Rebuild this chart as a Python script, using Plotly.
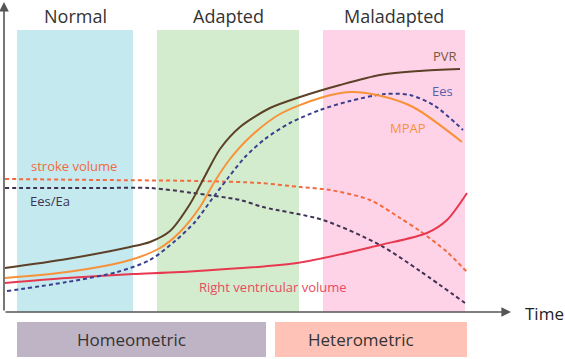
import plotly.graph_objects as go

# ---- data (x: time position, y: level measured downward on the canvas scale) ----
phase_names = ["Normal", "Adapted", "Maladapted"]
phase_start = [17, 157, 323]
phase_end = [133, 299, 465]
phase_colors = ["#c4e9ef", "#d3ecce", "#ffd3e7"]

mode_names = ["Homeometric", "Heterometric"]
mode_start = [17, 275]
mode_end = [266, 467]
mode_label_x = [131, 361]
mode_colors = ["#bfb3c6", "#ffc2b7"]

pvr_x = [5, 67, 130, 150, 170, 190, 205, 220, 240, 270, 300, 340, 380, 420, 460]
pvr_y = [268, 259, 247, 242, 231, 204, 176, 149, 127, 108, 97, 85, 75, 71, 69]

mpap_x = [5, 67, 130, 160, 180, 200, 215, 230, 250, 280, 320, 350, 377, 413, 462]
mpap_y = [278, 272, 260, 248, 232, 207, 181, 159, 137, 114, 98, 92, 95, 107, 142]

ees_x = [7, 67, 117, 150, 175, 195, 212, 228, 245, 265, 290, 320, 350, 385, 410, 435, 463]
ees_y = [291, 282, 272, 260, 241, 222, 199, 178, 157, 139, 123, 110, 101, 94, 95, 106, 130]

sv_x = [5, 100, 200, 260, 300, 330, 370, 400, 420, 447, 467]
sv_y = [179, 180, 181, 183, 187, 190, 200, 218, 231, 252, 272]

eesea_x = [5, 100, 150, 193, 240, 263, 323, 380, 420, 465]
eesea_y = [188, 188, 188, 193, 200, 207, 220, 245, 271, 303]

rvv_x = [5, 67, 133, 180, 297, 380, 427, 447, 467]
rvv_y = [283, 278, 274, 272, 263, 245, 233, 220, 193]

FONT = "Open Sans, Noto Sans, DejaVu Sans, sans-serif"

fig = go.Figure()

shapes = []
annotations = []

for name, x0, x1, c in zip(phase_names, phase_start, phase_end, phase_colors):
    shapes.append(dict(type="rect", xref="x", yref="y", x0=x0, x1=x1, y0=30, y1=312,
                       fillcolor=c, line=dict(width=0), layer="below"))
    annotations.append(dict(x=(x0 + x1) / 2, y=16, xref="x", yref="y", text=name,
                            showarrow=False, font=dict(size=18, color="#333333", family=FONT)))

for name, x0, x1, lx, c in zip(mode_names, mode_start, mode_end, mode_label_x, mode_colors):
    shapes.append(dict(type="rect", xref="x", yref="y", x0=x0, x1=x1, y0=322, y1=357,
                       fillcolor=c, line=dict(width=0), layer="below"))
    annotations.append(dict(x=lx, y=339, xref="x", yref="y", text=name,
                            showarrow=False, font=dict(size=17, color="#333333", family=FONT)))

series = [
    (sv_x, sv_y, "#f26a3f", "4px,3px"),
    (eesea_x, eesea_y, "#3f3252", "4px,3px"),
    (rvv_x, rvv_y, "#e8384f", "solid"),
    (ees_x, ees_y, "#3a3f8f", "4px,3px"),
    (mpap_x, mpap_y, "#f7923a", "solid"),
    (pvr_x, pvr_y, "#5c4027", "solid"),
]
for xs, ys, c, d in series:
    fig.add_trace(go.Scatter(x=xs, y=ys, mode="lines",
                             line=dict(color=c, width=2, dash=d, shape="spline", smoothing=0.8),
                             hoverinfo="skip", showlegend=False))

labels = [
    ("PVR", 445, 56, "#7a5640"),
    ("Ees", 442, 91, "#5a5fa8"),
    ("MPAP", 408, 128, "#f7923a"),
    ("stroke volume", 74, 166, "#f26a3f"),
    ("Ees/Ea", 50, 201, "#3f3252"),
    ("Right ventricular volume", 273, 287, "#e84a5f"),
]
for t, x, y, c in labels:
    annotations.append(dict(x=x, y=y, xref="x", yref="y", text=t, showarrow=False,
                            font=dict(size=13, color=c, family=FONT)))

annotations.append(dict(x=544, y=313, xref="x", yref="y", text="Time", showarrow=False,
                        font=dict(size=17, color="#222222", family=FONT)))

# axes arrows
annotations.append(dict(x=511, y=312, ax=4, ay=312, xref="x", yref="y", axref="x", ayref="y",
                        text="", showarrow=True, arrowhead=2, arrowsize=1.2, arrowwidth=1.6,
                        arrowcolor="#555555"))
annotations.append(dict(x=4, y=2, ax=4, ay=312, xref="x", yref="y", axref="x", ayref="y",
                        text="", showarrow=True, arrowhead=2, arrowsize=1.2, arrowwidth=1.6,
                        arrowcolor="#555555"))

fig.update_layout(
    width=565, height=359,
    margin=dict(l=0, r=0, t=0, b=0),
    paper_bgcolor="white", plot_bgcolor="white",
    shapes=shapes, annotations=annotations,
    xaxis=dict(range=[0, 565], visible=False, fixedrange=True),
    yaxis=dict(range=[359, 0], visible=False, fixedrange=True),
)

fig.write_html("out.html", config={"displayModeBar": False},
               post_script="document.body.style.margin='0';document.body.style.overflow='hidden';")
